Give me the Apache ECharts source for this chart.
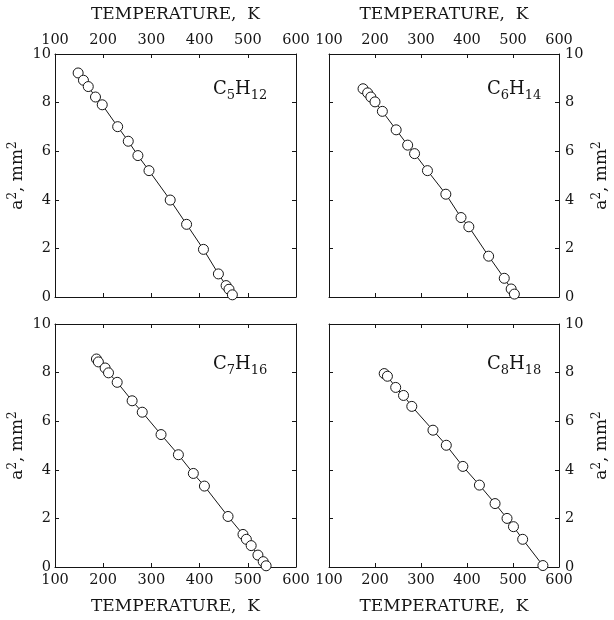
<!DOCTYPE html>
<html lang="en">
<head>
<meta charset="utf-8" />
<title>a2 vs temperature</title>
<script src="https://cdn.jsdelivr.net/npm/echarts@6/dist/echarts.min.js"></script>
<style>
    html, body { margin: 0; background: #FFFFFF; }
    #chart { width: 614px; height: 620px; }
</style>
</head>
<body>
<div id="chart"></div>
<script>
// values: temperature (K) and a^2 (mm^2)
var c5Temp = [148, 159, 169, 184, 198, 230, 252, 272, 295, 339, 373, 408, 439, 455, 461, 468];
var c5A2   = [9.22, 8.92, 8.66, 8.23, 7.91, 7.01, 6.41, 5.82, 5.20, 3.99, 2.99, 1.96, 0.95, 0.47, 0.32, 0.09];

var c6Temp = [174, 184, 191, 200, 216, 246, 271, 286, 314, 354, 387, 404, 447, 481, 496, 503];
var c6A2   = [8.57, 8.40, 8.23, 8.03, 7.64, 6.88, 6.25, 5.90, 5.20, 4.23, 3.27, 2.89, 1.68, 0.77, 0.33, 0.12];

var c7Temp = [186, 190, 204, 211, 229, 260, 281, 320, 356, 387, 410, 459, 490, 497, 507, 521, 532, 538];
var c7A2   = [8.56, 8.44, 8.19, 7.99, 7.60, 6.84, 6.37, 5.45, 4.62, 3.85, 3.33, 2.08, 1.34, 1.14, 0.88, 0.49, 0.22, 0.05];

var c8Temp = [220, 227, 245, 262, 280, 326, 355, 391, 427, 461, 487, 501, 521, 565];
var c8A2   = [7.96, 7.85, 7.39, 7.06, 6.61, 5.63, 5.01, 4.14, 3.37, 2.61, 2.00, 1.66, 1.14, 0.06];

var compoundLabels = ['C{s|5}H{s|12}', 'C{s|6}H{s|14}', 'C{s|7}H{s|16}', 'C{s|8}H{s|18}'];
var xTitle = 'TEMPERATURE,  K';
var yTitle = 'a{p|2}, mm{p|2}';

var ink = '#151515';
var serif = '"DejaVu Serif", "Liberation Serif", serif';

var panels = [
    { temp: c5Temp, a2: c5A2, left: 55, top: 54, col: 0, row: 0 },
    { temp: c6Temp, a2: c6A2, left: 329, top: 54, col: 1, row: 0 },
    { temp: c7Temp, a2: c7A2, left: 55, top: 324, col: 0, row: 1 },
    { temp: c8Temp, a2: c8A2, left: 329, top: 324, col: 1, row: 1 }
];

var grids = [], xAxes = [], yAxes = [], series = [], graphics = [];

function frameAxis(extra) {
    var base = {
        axisLine: { show: true, onZero: false, lineStyle: { color: ink, width: 1 } },
        axisTick: { show: true, inside: true, length: 4, lineStyle: { color: ink, width: 1 } },
        splitLine: { show: false },
        axisLabel: { show: false }
    };
    return Object.assign(base, extra);
}

panels.forEach(function (p, i) {
    grids.push({ left: p.left, top: p.top, width: 241, height: 243 });

    var xMain = p.row === 0 ? 'top' : 'bottom';
    var xMirror = p.row === 0 ? 'bottom' : 'top';
    var yMain = p.col === 0 ? 'left' : 'right';
    var yMirror = p.col === 0 ? 'right' : 'left';

    var xRange = { type: 'value', gridIndex: i, min: 100, max: 600, interval: 100 };
    var yRange = { type: 'value', gridIndex: i, min: 0, max: 10, interval: 2 };

    xAxes.push(frameAxis(Object.assign({}, xRange, {
        position: xMain,
        name: xTitle,
        nameLocation: 'middle',
        nameGap: 31,
        nameTextStyle: { fontFamily: serif, fontSize: 17, color: ink },
        axisLabel: { show: true, margin: 6, fontFamily: serif, fontSize: 14.5, color: ink,
            showMinLabel: true, showMaxLabel: true }
    })));
    xAxes.push(frameAxis(Object.assign({}, xRange, { position: xMirror })));

    yAxes.push(frameAxis(Object.assign({}, yRange, {
        position: yMain,
        name: yTitle,
        nameLocation: 'middle',
        nameRotate: 90,
        nameGap: p.col === 0 ? 23 : 32,
        nameTextStyle: { fontFamily: serif, fontSize: 17, color: ink, lineHeight: 22,
            rich: { p: { fontFamily: serif, fontSize: 12, lineHeight: 10, verticalAlign: 'top', color: ink } } },
        axisLabel: { show: true, margin: p.col === 0 ? 4 : 6, fontFamily: serif, fontSize: 14.5, color: ink,
            showMinLabel: true, showMaxLabel: true }
    })));
    yAxes.push(frameAxis(Object.assign({}, yRange, { position: yMirror })));

    series.push({
        type: 'line',
        xAxisIndex: i * 2,
        yAxisIndex: i * 2,
        data: p.temp.map(function (t, k) { return [t, p.a2[k]]; }),
        symbol: 'circle',
        symbolSize: 10,
        itemStyle: { color: '#FFFFFF', borderColor: ink, borderWidth: 1 },
        lineStyle: { color: ink, width: 1 },
        emphasis: { disabled: true },
        animation: false
    });

    graphics.push({
        type: 'text',
        left: p.left + 158,
        top: p.top + (p.row === 0 ? 22 : 27),
        style: {
            text: compoundLabels[i],
            fontFamily: serif,
            fontSize: 18,
            lineHeight: 26,
            fill: ink,
            rich: { s: { fontFamily: serif, fontSize: 13, lineHeight: 12, verticalAlign: 'bottom', fill: ink } }
        }
    });
});

var chart = echarts.init(document.getElementById('chart'), null, { renderer: 'canvas' });
chart.setOption({
    backgroundColor: '#FFFFFF',
    animation: false,
    grid: grids,
    xAxis: xAxes,
    yAxis: yAxes,
    series: series,
    graphic: graphics
});
</script>
</body>
</html>
